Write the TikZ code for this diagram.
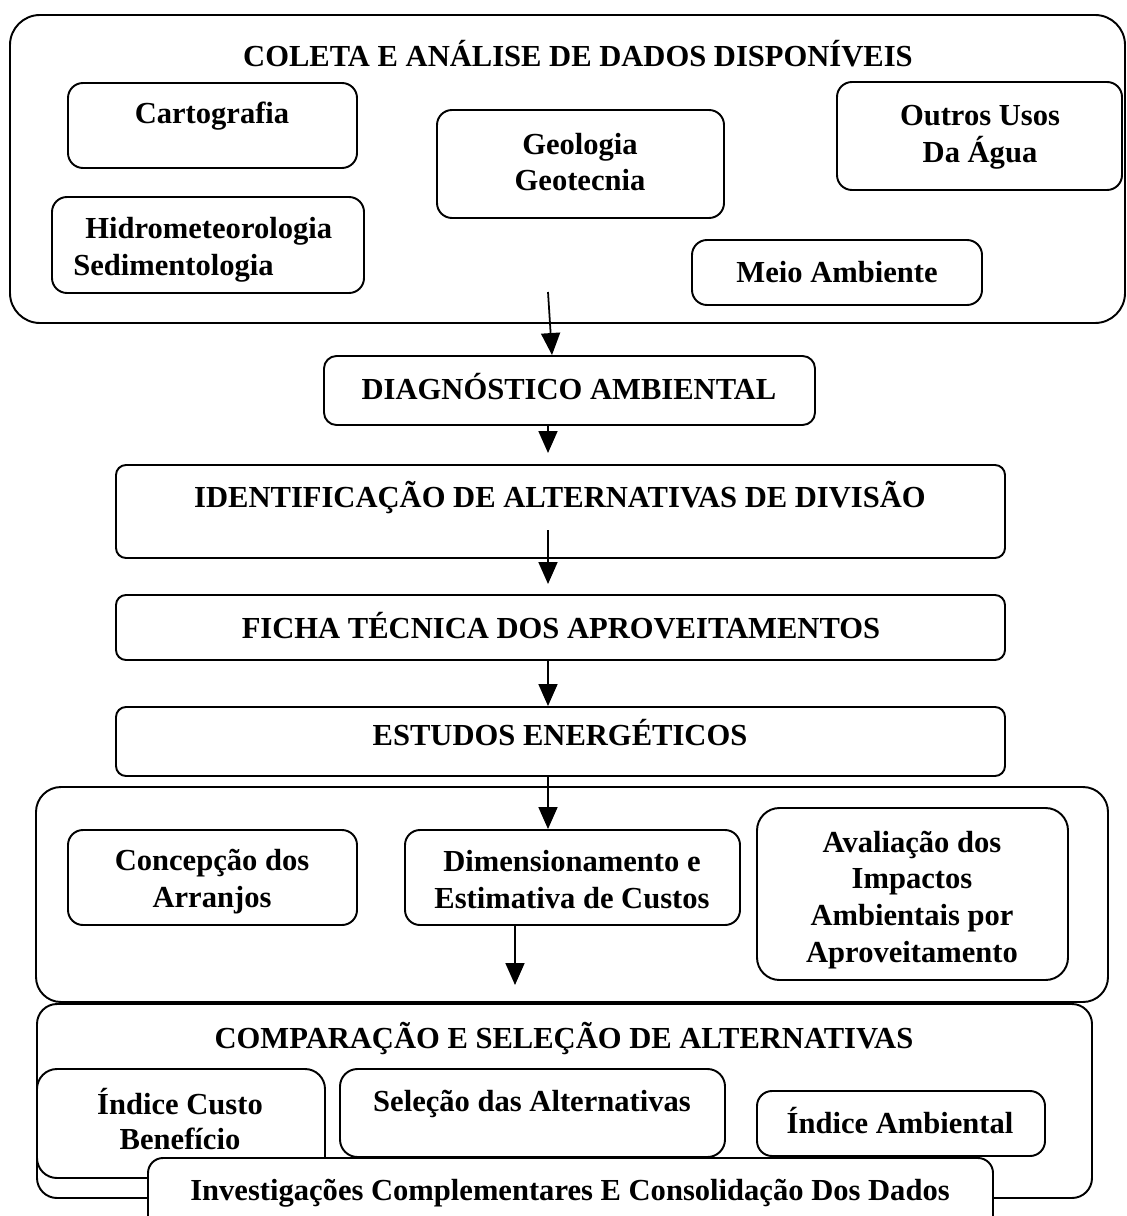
\documentclass[tikz,border=0pt]{standalone}
\usepackage{fontspec}
\setmainfont{Liberation Serif}
\usetikzlibrary{fit,arrows.meta}

\begin{document}
\begin{tikzpicture}[
    x=0.02cm,y=-0.02cm,
    font=\fontsize{17.4}{21}\selectfont\bfseries,
    block/.style={draw, line width=1.1pt, rounded corners=0.3cm, fill=white, inner sep=0, fit={#1}},
    txt/.style={align=center, inner sep=0},
    arr/.style={line width=1pt, -{Triangle[length=0.44cm,width=0.38cm]}}
]
\useasboundingbox (0,0) rectangle (1126,1216);
\coordinate (col) at (548,0);

% data collection
\node[block={(10,15) (1125,323)}, rounded corners=0.6cm] (coleta) {};
\node[txt] (coleta-t) at (578,54) {COLETA E ANÁLISE DE DADOS DISPONÍVEIS};
\node[block={(68,83) (357,168)}] (carto) {};
\node[txt] (carto-t) at (212,116) {Cartografia};
\node[block={(52,197) (364,293)}] (hidro) {};
\node[txt, align=left, anchor=west] (hidro-t) at (73,250) {\hspace{0.24cm}Hidrometeorologia\\Sedimentologia};
\node[block={(437,110) (724,218)}] (geo) {};
\node[txt] (geo-t) at (580,162) {Geologia\\Geotecnia};
\node[block={(837,82) (1122,190)}] (outros) {};
\node[txt] (outros-t) at (980,137) {Outros Usos\\Da Água};
\node[block={(692,240) (982,305)}] (meio) {};
\node[txt] (meio-t) at (837,272) {Meio Ambiente};

% main sequence
\node[block={(324,356) (815,425)}, rounded corners=0.25cm] (diag) {};
\node[txt] (diag-t) at (569,387) {DIAGNÓSTICO AMBIENTAL};
\node[block={(116,465) (1005,558)}, rounded corners=0.2cm] (ident) {};
\node[txt] (ident-t) at (560,498) {IDENTIFICAÇÃO DE ALTERNATIVAS DE DIVISÃO};
\node[block={(116,595) (1005,660)}, rounded corners=0.2cm] (ficha) {};
\node[txt] (ficha-t) at (561,626) {FICHA TÉCNICA DOS APROVEITAMENTOS};
\node[block={(116,707) (1005,776)}, rounded corners=0.2cm] (estudos) {};
\node[txt] (estudos-t) at (560,733) {ESTUDOS ENERGÉTICOS};

% energy studies
\node[block={(36,787) (1108,1002)}, rounded corners=0.5cm] (energia) {};
\node[block={(68,830) (357,925)}] (conc) {};
\node[txt] (conc-t) at (212,882) {Concepção dos\\Arranjos};
\node[block={(405,830) (740,925)}] (dimens) {};
\node[txt] (dimens-t) at (572,880) {Dimensionamento e\\Estimativa de Custos};
\node[block={(757,808) (1068,980)}, rounded corners=0.45cm] (aval) {};
\node[txt] (aval-t) at (912,900) {Avaliação dos\\Impactos\\Ambientais por\\Aproveitamento};

% comparison
\node[block={(37,1004) (1092,1198)}, rounded corners=0.4cm] (comp) {};
\node[txt] (comp-t) at (564,1039) {COMPARAÇÃO E SELEÇÃO DE ALTERNATIVAS};
\node[block={(37,1069) (325,1178)}, rounded corners=0.4cm] (custo) {};
\node[txt, font=\fontsize{17.4}{20}\selectfont\bfseries] (custo-t) at (180,1119) {Índice Custo\\Benefício};
\node[block={(340,1069) (725,1157)}, rounded corners=0.35cm] (selec) {};
\node[txt] (selec-t) at (532,1104) {Seleção das Alternativas};
\node[block={(757,1091) (1045,1156)}] (ambi) {};
\node[txt] (ambi-t) at (900,1121) {Índice Ambiental};
\node[block={(148,1158) (993,1240)}, rounded corners=0.3cm] (invest) {};
\node[txt] (invest-t) at (570,1193) {Investigações Complementares E Consolidação Dos Dados};

% arrows
\coordinate (a1) at (548,292);
\coordinate (a1x) at (552,0);
\coordinate (a2) at (548,453);
\coordinate (a3) at (548,530);
\coordinate (a3e) at (548,584);
\coordinate (a6) at (515,0);
\coordinate (a6e) at (515,985);
\draw[arr] (a1) -- (diag.north -| a1x);
\draw[arr] (diag.south -| col) -- (a2);
\draw[arr] (a3) -- (a3e);
\draw[arr] (ficha.south -| col) -- (estudos.north -| col);
\draw[arr] (estudos.south -| col) -- (dimens.north -| col);
\draw[arr] (dimens.south -| a6) -- (a6e);
\end{tikzpicture}
\end{document}
